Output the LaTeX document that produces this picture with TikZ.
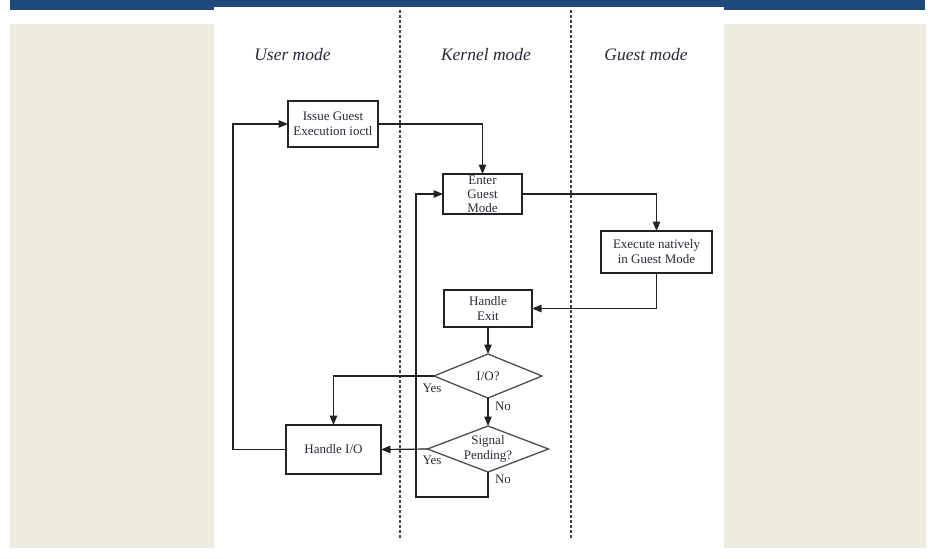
\documentclass[tikz,border=0pt]{standalone}
\usepackage{fontspec}
\setmainfont{Liberation Serif}
\usetikzlibrary{arrows.meta,shapes.geometric,calc}
\definecolor{hdrblue}{HTML}{1F497D}
\definecolor{panelbg}{HTML}{EDEAE0}
\definecolor{ink}{HTML}{222222}
\definecolor{txt}{HTML}{2A2A3A}
\begin{document}
\begin{tikzpicture}[x=1pt,y=-1pt,
  box/.style={draw=ink, line width=1.3pt, fill=white, inner sep=0pt, outer sep=0pt,
    align=center, text=txt, font=\fontsize{13}{15}\selectfont},
  dia/.style={diamond, draw=ink!80, line width=1.3pt, fill=white, inner sep=0pt, outer sep=0pt},
  diatext/.style={align=center, text=txt, inner sep=0pt, font=\fontsize{13}{14.5}\selectfont},
  conn/.style={draw=ink, line width=1.2pt},
  arr/.style={conn, -{Triangle[length=9.5pt,width=7.5pt]}},
  lbl/.style={text=txt, font=\fontsize{13}{14}\selectfont, inner sep=0pt},
  modelbl/.style={text=txt, font=\fontsize{17.5}{19}\selectfont\itshape, inner sep=0pt},
  vline/.style={draw=ink!85, line width=1.4pt, dash pattern=on 3pt off 2pt}]
\useasboundingbox (0,0) rectangle (928,558);
% background
\fill[hdrblue] (10,0) rectangle (925,10);
\fill[panelbg] (10,24) rectangle (214,548);
\fill[panelbg] (724,24) rectangle (926,548);
\fill[white] (214,7) rectangle (724,558);
% lane separators
\draw[vline] (400,10) -- (400,540);
\draw[vline] (571,10) -- (571,540);
% lane titles
\node[modelbl] (tuser) at (292.5,55) {User mode};
\node[modelbl] (tkern) at (486,55) {Kernel mode};
\node[modelbl] (tguest) at (646,55) {Guest mode};
% nodes
\node[box, minimum width=90pt, minimum height=46pt] (issue) at (333,124) {Issue Guest\\Execution ioctl};
\node[box, minimum width=79pt, minimum height=40pt, font=\fontsize{13}{14}\selectfont] (enter) at (482.5,194) {Enter\\Guest\\Mode};
\node[box, minimum width=111pt, minimum height=42pt] (exec) at (656.5,252) {Execute natively\\in Guest Mode};
\node[box, minimum width=88pt, minimum height=37pt] (hexit) at (488,308.5) {Handle\\Exit};
\node[dia, minimum width=108pt, minimum height=44pt] (io) at (488,376) {};
\node[diatext] (iot) at (io.center) {I/O?};
\node[dia, minimum width=121pt, minimum height=46pt] (sig) at (488,449) {};
\node[diatext] (sigt) at (sig.center) {Signal\\Pending?};
\node[box, minimum width=95pt, minimum height=49pt] (hio) at (333.5,449.5) {Handle I/O};
% helper coordinates
\coordinate (lx) at (233,0);
\coordinate (lx2) at (416,0);
\coordinate (bot) at (0,497);
% connectors
\draw[arr] (hio.west) -- (hio.west -| lx) |- (issue.west);
\draw[arr] (issue.east) -| (enter.north);
\draw[arr] (enter.east) -| (exec.north);
\draw[arr] (exec.south) |- (hexit.east);
\draw[arr] (hexit.south) -- (io.north);
\draw[arr] (io.west) -| (hio.north);
\draw[arr] (io.south) -- (sig.north);
\draw[arr] (sig.west) -- (hio.east);
\draw[arr] (sig.south) -- (sig.south |- bot) -- (lx2 |- bot) |- (enter.west);
% edge labels
\node[lbl] (yes1) at (432,388) {Yes};
\node[lbl] (no1) at (503,406) {No};
\node[lbl] (yes2) at (432,460) {Yes};
\node[lbl] (no2) at (503,479) {No};
\end{tikzpicture}
\end{document}
